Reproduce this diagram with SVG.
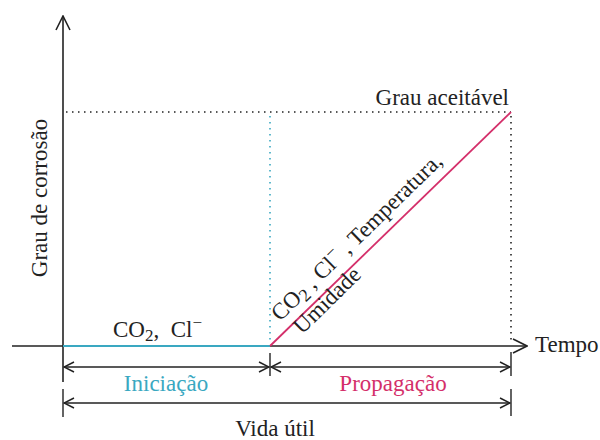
<svg xmlns="http://www.w3.org/2000/svg" width="600" height="440" viewBox="0 0 600 440">
<style>
text{font-family:"Liberation Serif","Times New Roman",serif;fill:#222;font-size:23px}
.ax{stroke:#222;stroke-width:1.6;fill:none}
.dim{stroke:#222;stroke-width:1.4;fill:none}
.dot{stroke:#222;stroke-width:1.6;stroke-dasharray:1.5 4.5;fill:none}
.cdot{stroke:#3aa8c1;stroke-width:1.6;stroke-dasharray:1.5 4.5;fill:none}
</style>
<defs>
<marker id="chev" viewBox="0 0 12 12" refX="11" refY="6" markerWidth="12" markerHeight="12" markerUnits="userSpaceOnUse" orient="auto-start-reverse">
<path d="M1,1 L11,6 L1,11" fill="none" stroke="#222" stroke-width="1.5"/>
</marker>
<marker id="big" viewBox="0 0 16 16" refX="15" refY="8" markerWidth="16" markerHeight="16" markerUnits="userSpaceOnUse" orient="auto">
<path d="M1,1 L15,8 L1,15" fill="none" stroke="#222" stroke-width="1.6"/>
</marker>
</defs>
<g id="connectors">
<line class="dot" x1="66" y1="112" x2="511" y2="112"/>
<line class="dot" x1="511" y1="116" x2="511" y2="344"/>
<line class="cdot" x1="270" y1="116" x2="270" y2="344"/>
<line class="ax" x1="63" y1="382" x2="63" y2="16" marker-end="url(#big)"/>
<line class="ax" x1="12" y1="346" x2="527" y2="346" marker-end="url(#big)"/>
<line x1="63" y1="346" x2="270" y2="346" stroke="#3aa8c1" stroke-width="2.2"/>
<line x1="270" y1="346" x2="511" y2="112" stroke="#d42f6a" stroke-width="1.8"/>
<line class="dim" x1="270" y1="353" x2="270" y2="376"/>
<line class="dim" x1="511" y1="352" x2="511" y2="376"/>
<line class="dim" x1="63" y1="389" x2="63" y2="417"/>
<line class="dim" x1="511" y1="389" x2="511" y2="416"/>
<line class="dim" x1="64" y1="367" x2="269" y2="367" marker-start="url(#chev)" marker-end="url(#chev)"/>
<line class="dim" x1="271" y1="367" x2="510" y2="367" marker-start="url(#chev)" marker-end="url(#chev)"/>
<line class="dim" x1="64" y1="403" x2="510" y2="403" marker-start="url(#chev)" marker-end="url(#chev)"/>
</g>
<g id="labels">
<text x="0" y="0" transform="translate(47,198) rotate(-90)" text-anchor="middle" font-size="24">Grau de corrosão</text>
<text x="509" y="105" text-anchor="end" font-size="21">Grau aceitável</text>
<text x="535" y="352">Tempo</text>
<text x="113" y="337" font-size="24" xml:space="preserve">CO<tspan font-size="17" dy="4">2</tspan><tspan dy="-4">,  Cl</tspan><tspan font-size="17" dy="-9">−</tspan></text>
<text x="166" y="391" text-anchor="middle" font-size="22" style="fill:#3aa8c1">Iniciação</text>
<text x="393" y="391" text-anchor="middle" font-size="22" style="fill:#d42f6a">Propagação</text>
<text x="275" y="436" text-anchor="middle" font-size="24">Vida útil</text>
<text transform="translate(280,322) rotate(-44.3)" font-size="25" xml:space="preserve">CO<tspan font-size="18" dy="4">2</tspan><tspan dy="-4"> , Cl</tspan><tspan font-size="18" dy="-9">−</tspan><tspan dy="9"> , Temperatura,</tspan></text>
<text transform="translate(302,335) rotate(-44.3)" font-size="24">Umidade</text>
</g>
</svg>
